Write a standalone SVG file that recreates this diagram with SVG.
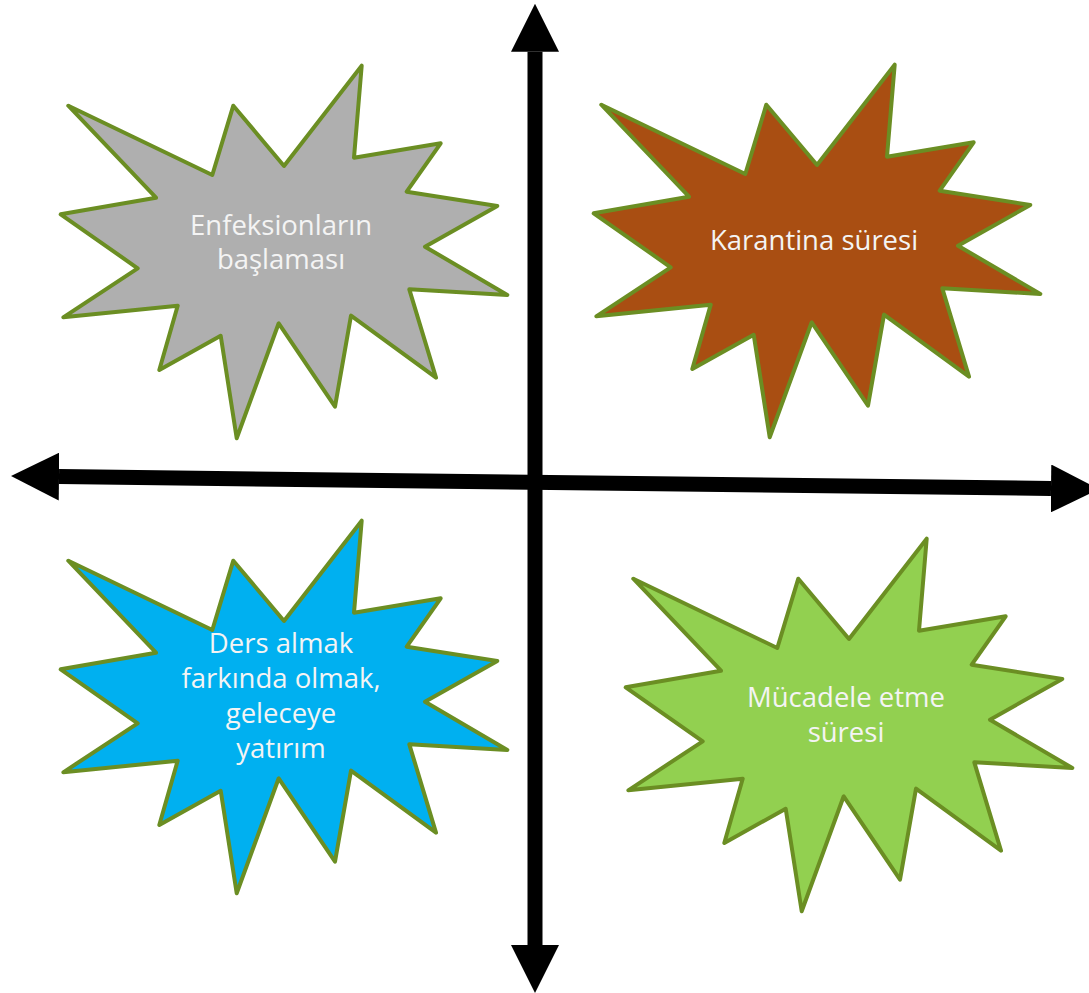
<svg xmlns="http://www.w3.org/2000/svg" xmlns:xlink="http://www.w3.org/1999/xlink" width="1089" height="993" viewBox="0 0 1089 993">
  <style>
    .burst { stroke: #6b8e23; stroke-width: 4; stroke-linejoin: round; }
    .gray { fill: #afafaf; }
    .brown { fill: #a94e12; }
    .blue { fill: #00b0f0; }
    .green { fill: #92d050; }
    .label { font-family: "Open Sans", "DejaVu Sans", sans-serif; font-size: 27.5px; fill: #f4f4f4; text-anchor: middle; }
    .axis { stroke: #000; stroke-width: 15; fill: none; marker-start: url(#head); marker-end: url(#head); }
  </style>
  <defs>
    <!-- 24-point explosion outline, shared by all four quadrants -->
    <path id="burst" d="M68.3,105.7 L212.3,175 L233.3,105.7 L284,166 L361.7,65.7 L354,157.7 L440.7,143.3 L406.7,191.7 L497.3,206 L425,246.7 L507.3,295 L409.3,289.3 L436,377.7 L351,315.7 L335,406.7 L278.7,323.3 L236.7,438.3 L220.7,335.7 L159.3,370 L177.7,305.7 L63.3,317.3 L137.7,268.3 L60.7,214.3 L156,197.7 Z"/>
    <marker id="head" viewBox="0 0 48 48" refX="0" refY="24" markerWidth="48" markerHeight="48" markerUnits="userSpaceOnUse" orient="auto-start-reverse">
      <path d="M0,0 L48,24 L0,48 Z" fill="#000"/>
    </marker>
  </defs>

  <g id="connectors">
    <path class="axis" d="M59,476.6 L1051,488.5"/>
    <path class="axis" d="M535,51.7 L535,945"/>
  </g>

  <g id="node-enfeksion">
    <use href="#burst" xlink:href="#burst" class="burst gray"/>
    <text class="label" x="281" y="235">Enfeksionların</text>
    <text class="label" x="281" y="269">başlaması</text>
  </g>

  <g id="node-karantina">
    <use href="#burst" xlink:href="#burst" class="burst brown" transform="translate(533,-1)"/>
    <text class="label" x="814" y="250">Karantina süresi</text>
  </g>

  <g id="node-ders">
    <use href="#burst" xlink:href="#burst" class="burst blue" transform="translate(0,455)"/>
    <text class="label" x="281" y="653">Ders almak</text>
    <text class="label" x="281" y="688">farkında olmak,</text>
    <text class="label" x="281" y="723">geleceye</text>
    <text class="label" x="281" y="758">yatırım</text>
  </g>

  <g id="node-mucadele">
    <use href="#burst" xlink:href="#burst" class="burst green" transform="translate(565,473)"/>
    <text class="label" x="846" y="707">Mücadele etme</text>
    <text class="label" x="846" y="742">süresi</text>
  </g>
</svg>
